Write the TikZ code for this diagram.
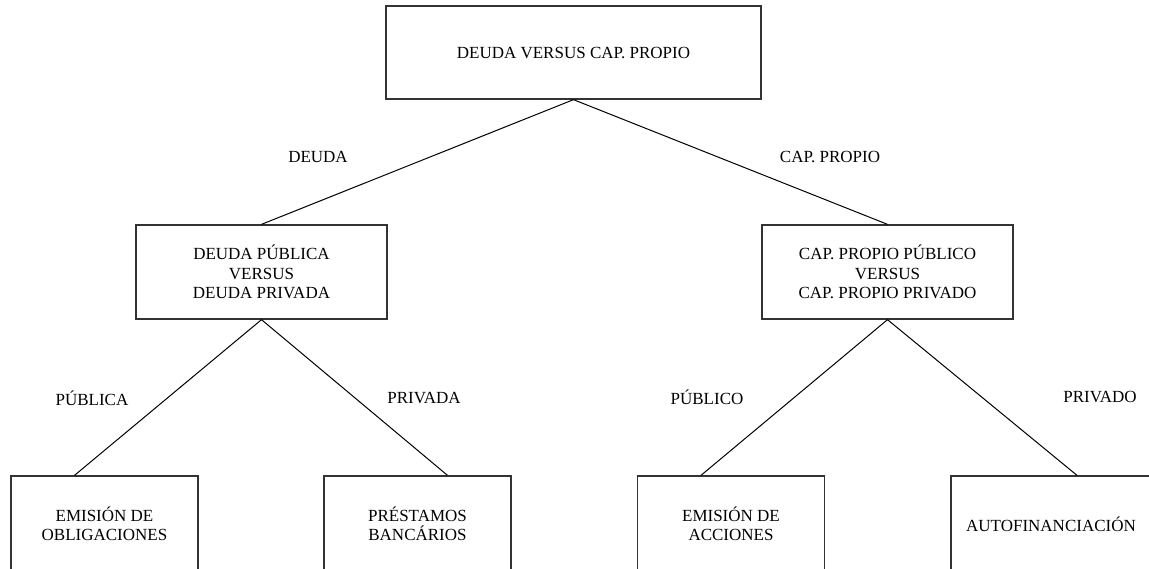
\documentclass[tikz,border=0pt]{standalone}
\usepackage{fontspec}
\setmainfont{Liberation Serif}
\usepackage{tikz}

\begin{document}
\begin{tikzpicture}[x=1pt, y=-1pt,
  every box/.style={draw, line width=1.3pt, draw=black!80, align=center,
    inner sep=0pt, font=\fontsize{17}{19.5}\selectfont},
  every label/.style={font=\fontsize{17}{19.5}\selectfont, inner sep=0pt},
  every link/.style={line width=1pt}]

\useasboundingbox (0,0) rectangle (1149,568);

\node [every box, minimum width=375, minimum height=93] (top) at (573.5,52.5)
  {DEUDA VERSUS CAP. PROPIO};

\foreach \m/\x/\l in {left/261.5/{DEUDA PÚBLICA\\VERSUS\\DEUDA PRIVADA},
                      right/887.5/{CAP. PROPIO PÚBLICO\\VERSUS\\CAP. PROPIO PRIVADO}}
  \node [every box, minimum width=251, minimum height=94] (mid-\m) at (\x,272) {\l};

\foreach \m/\x/\w/\l in {1/104.5/187/{EMISIÓN DE\\OBLIGACIONES},
                         2/417.5/187/{PRÉSTAMOS\\BANCÁRIOS},
                         3/731/187/{EMISIÓN DE\\ACCIONES},
                         4/1051/200/{AUTOFINANCIACIÓN}}
  \node [every box, minimum width=\w, minimum height=96] (leaf-\m) at (\x,524) {\l};

\draw [every link] (top.south) -- (mid-left.north);
\draw [every link] (top.south) -- (mid-right.north);

\foreach \p/\i/\s in {left/1/-30, left/2/30, right/3/-30, right/4/26}
  \draw [every link] (mid-\p.south) -- ([xshift=\s]leaf-\i.north);

\foreach \n/\x/\y/\l in {deuda/318/157/DEUDA, capital/830/157/CAP. PROPIO,
                         publica/92/398/PÚBLICA, privada/424/398/PRIVADA,
                         publico/707/397/PÚBLICO, privado/1100/397/PRIVADO}
  \node [every label] (lab-\n) at (\x,\y) {\l};

\end{tikzpicture}
\end{document}
